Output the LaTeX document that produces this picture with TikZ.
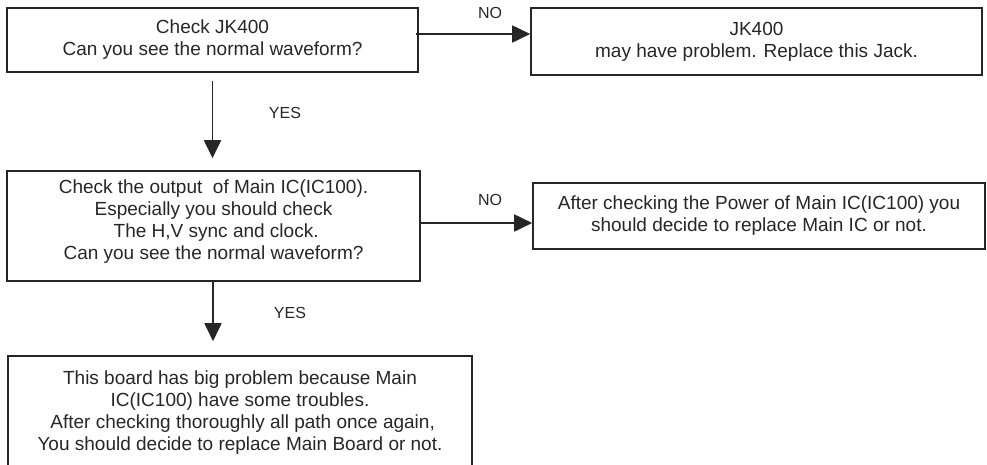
\documentclass[tikz,border=0pt]{standalone}
\usepackage{fontspec}
\setmainfont{Liberation Sans}
\usetikzlibrary{arrows.meta}

\tikzset{
  box/.style={draw=black!85, line width=1.6pt, rectangle, align=center,
    font=\fontsize{19}{22}\selectfont, text=black!85, inner sep=0pt},
  boxtext/.style={align=center, font=\fontsize{19}{22}\selectfont,
    text=black!85, inner sep=0pt},
  arr/.style={draw=black!85, line width=1.8pt,
    -{Triangle[length=18pt,width=17pt]}},
  lbl/.style={font=\fontsize{16}{18}\selectfont, text=black!85, inner sep=0pt}
}

\begin{document}
\begin{tikzpicture}[x=1pt,y=-1pt]
  \useasboundingbox (0,0) rectangle (987,464);
  \clip (0,0) rectangle (987,464);

  % decision and result boxes
  \node[box, minimum width=411pt, minimum height=64pt] (b1) at (212.5,40)
    {Check JK400\\Can you see the normal waveform?};
  \node[box, minimum width=451pt, minimum height=67pt] (b2) at (756.5,41.5)
    {JK400\\may have problem. Replace this Jack.};
  \node[box, minimum width=413pt, minimum height=110pt] (b3) at (213.5,226) {};
  \node[boxtext] (t3) at (213.5,222)
    {Check the output\ \ of Main IC(IC100).\\Especially you should check\\\ The H,V sync and clock.\\Can you see the normal waveform?};
  \node[box, minimum width=452pt, minimum height=66pt] (b4) at (759,216)
    {After checking the Power of Main IC(IC100) you\\should decide to replace Main IC or not.};
  \node[box, minimum width=464pt, minimum height=112pt] (b5) at (240,412) {};
  \node[boxtext] (t5) at (240,413)
    {This board has big problem because Main\\IC(IC100) have some troubles.\\\ After checking thoroughly all path once again,\\You should decide to replace Main Board or not.};

  % NO branches
  \path ([yshift=6pt]b1.east) coordinate (n1);
  \draw[arr, shorten <=-3pt] (n1) -- (n1 -| b2.west);
  \node[lbl] (no1) at (490,13) {NO};

  \path ([yshift=3pt]b3.east) coordinate (n2);
  \draw[arr, shorten <=-2pt] (n2) -- (n2 -| b4.west);
  \node[lbl] (no2) at (490,200) {NO};

  % YES branches
  \draw[arr, shorten <=8pt, shorten >=12pt] (b1.south) -- (b1.south |- b3.north);
  \node[lbl] (yes1) at (285,113) {YES};

  \draw[arr, shorten >=14pt] ([xshift=-0.5pt]b3.south) -- ([xshift=-0.5pt]b3.south |- b5.north);
  \node[lbl] (yes2) at (290,313) {YES};
\end{tikzpicture}
\end{document}
